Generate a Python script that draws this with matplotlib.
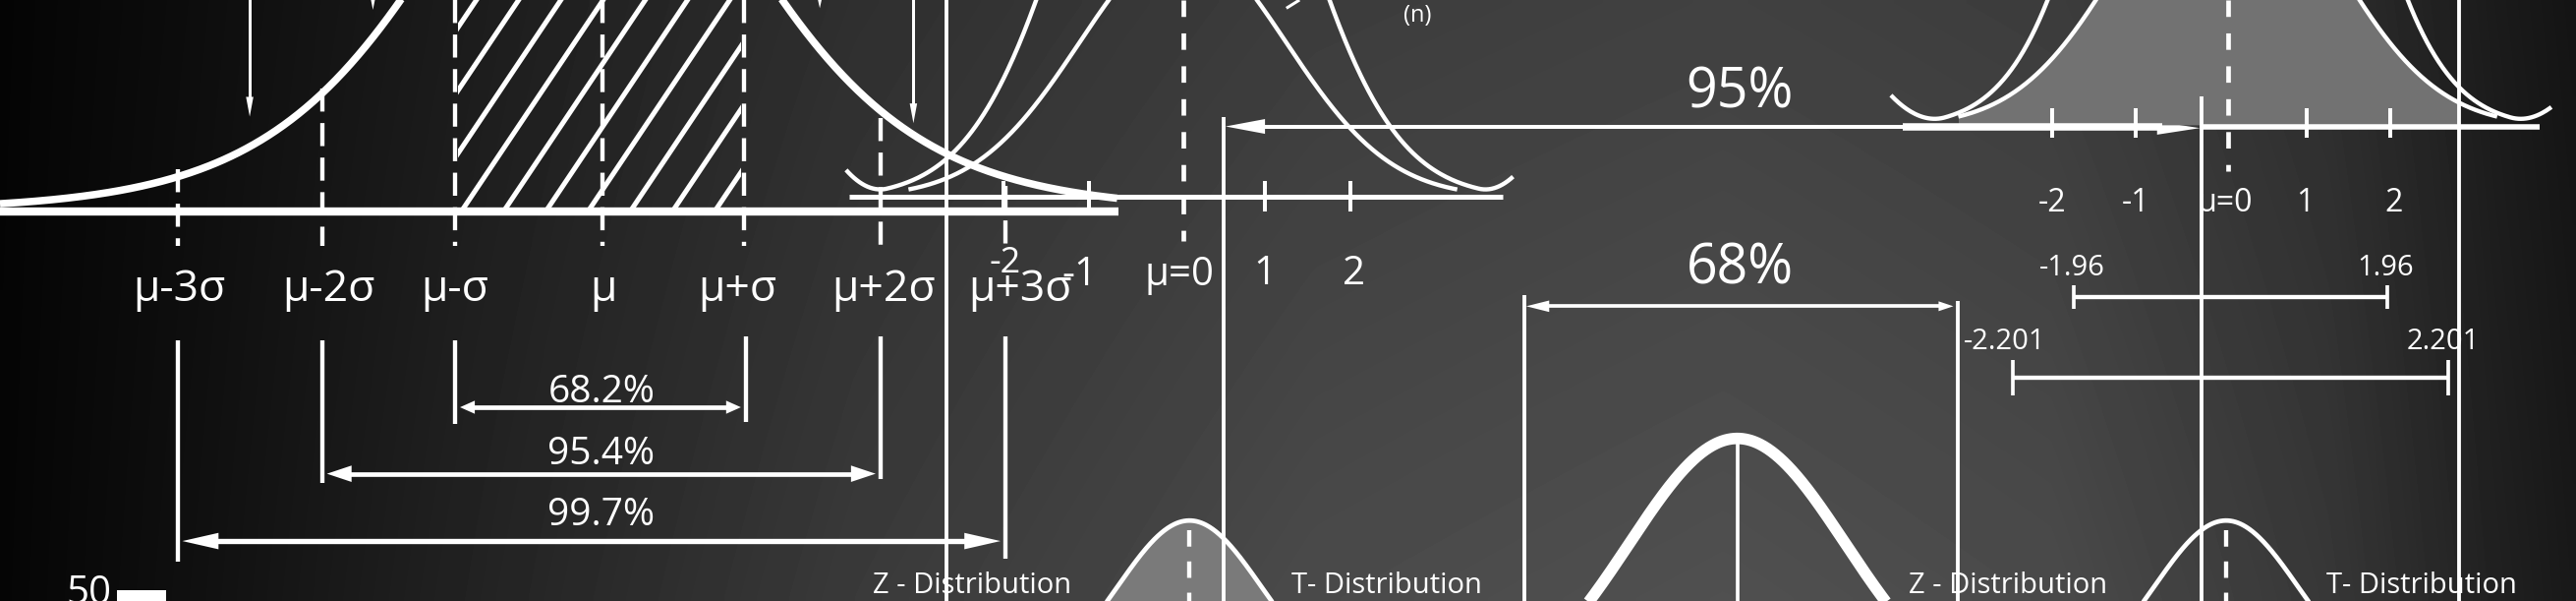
import numpy as np
import matplotlib
matplotlib.use("Agg")
import matplotlib.pyplot as plt
from matplotlib.patches import Polygon, Rectangle

plt.rcParams['font.family'] = ['Open Sans', 'DejaVu Sans']
plt.rcParams['lines.scale_dashes'] = False

W, H = 1568, 366
PT = 1.204          # points per board unit
INK = 'white'

# board shading, left to right
bg_x = [0, 120, 300, 520, 800, 1050, 1250, 1420, 1520, 1568]
bg_level = [0.02, 0.06, 0.13, 0.21, 0.27, 0.29, 0.27, 0.20, 0.12, 0.09]

# left panel: normal curve with sigma marks
sigma_x = [108, 196, 277, 367, 453, 536, 612]
sigma_dash_top = [103, 54, 0, 0, 0, 72, 113]
sigma_labels = ['μ-3σ', 'μ-2σ', 'μ-σ', 'μ', 'μ+σ', 'μ+2σ', 'μ+3σ']
sigma_label_x = [109, 200, 277, 367, 449, 538, 621]
hatch_bottoms = [282 + 25.7 * k for k in range(-4, 7)]

pct_labels = ['68.2%', '95.4%', '99.7%']
pct_left = [277, 196, 108]
pct_right = [454, 536, 612]
pct_arrow_y = [248, 288.5, 329.5]
pct_text_y = [237, 275, 312]
pct_bottom_left = [258, 294, 342]
pct_bottom_right = [257, 292, 340]
pct_head = [(9, 8), (15, 10), (22, 10)]

# middle panel: z / t curves
mid_center = 720
mid_ticks_x = [611, 663, 770, 822]
mid_labels = ['-2', '-1', 'μ=0', '1', '2']
mid_label_x = [612, 657, 718, 770, 824]
mid_label_y = [166, 174, 174, 173, 173]
mid_label_size = [26, 29, 29, 29, 29]

# right panel: z / t curves
right_center = 1356
right_ticks_x = [1249, 1300, 1404, 1455]
right_labels = ['-2', '-1', 'μ=0', '1', '2']
right_label_x = [1249, 1300, 1354, 1403, 1457]

ci_lo = ['-1.96', '-2.201']
ci_hi = ['1.96', '2.201']
ci_x0 = [1262.5, 1225]
ci_x1 = [1453, 1490]
ci_y = [181, 230]
ci_cap = [7, 11]
ci_lo_x = [1261, 1220]
ci_hi_x = [1452, 1487]
ci_text_y = [168, 212.5]

dist_z_x = [592, 1222]
dist_t_x = [844, 1474]
small_bell_x = [724, 1355]

full_lines_x = [576, 1497]
part_lines = [(745, 71), (928, 180), (1192, 183), (1340, 59)]


def line(xs, ys, lw, **kw):
    ax.plot(xs, ys, color=INK, lw=lw * PT, solid_capstyle='butt', **kw)


def dline(x, y0, y1, lw, on, off):
    ax.plot([x, x], [y0, y1], color=INK, lw=lw * PT, dashes=(on * PT, off * PT),
            dash_capstyle='butt')


def head(tx, ty, way, L, Wd):
    if way == 'right':
        pts = [(tx, ty), (tx - L, ty - Wd / 2), (tx - L, ty + Wd / 2)]
    elif way == 'left':
        pts = [(tx, ty), (tx + L, ty - Wd / 2), (tx + L, ty + Wd / 2)]
    else:
        pts = [(tx, ty), (tx - Wd / 2, ty - L), (tx + Wd / 2, ty - L)]
    ax.add_patch(Polygon(pts, closed=True, color=INK, lw=0))


def text(x, y, s, size, **kw):
    ax.text(x, y, s, color=INK, fontsize=size, ha='center', va='baseline', **kw)


def bell(x, c, base, amp, two_s2, dmin=None, dend=None, rise=0):
    d = np.abs(x - c)
    y = base - amp * np.exp(-d ** 2 / two_s2)
    if dmin is not None:
        y = y - rise * np.clip((d - dmin) / (dend - dmin), 0, None) ** 2
    return y


fig = plt.figure(figsize=(26.21, 6.11), dpi=100)
ax = fig.add_axes([0, 0, 1, 1])
ax.set_xlim(0, W)
ax.set_ylim(H, 0)
ax.axis('off')

gx = np.linspace(0, W, 400)
gy = np.linspace(0, H, 100)
lev = np.interp(gx, bg_x, bg_level)
shade = np.outer(0.88 + 0.2 * gy / H, lev)
ax.imshow(shade, extent=(0, W, H, 0), cmap='gray', vmin=0, vmax=1,
          aspect='auto', interpolation='bilinear', zorder=0)

# ---------------- left panel ----------------
xb = np.linspace(0, 680, 600)
yb = 128 - 263 / np.cosh((xb - 360) / 129) ** 2
line(xb, yb, 4.5)
line([0, 681], [128.5, 128.5], 5)

clip = Rectangle((279, -5), 172, 132, transform=ax.transData)
for b in hatch_bottoms:
    ln, = ax.plot([b, b + 0.67 * 135], [127, -8], color=INK, lw=3 * PT)
    ln.set_clip_path(clip)

for x, top in zip(sigma_x, sigma_dash_top):
    dline(x, top, 150, 2.6, 14, 7)
for s, x in zip(sigma_labels, sigma_label_x):
    text(x, 183.5, s, 32)

for i, s in enumerate(pct_labels):
    l, r, y = pct_left[i], pct_right[i], pct_arrow_y[i]
    line([l, l], [207, pct_bottom_left[i]], 2.6)
    line([r, r], [205, pct_bottom_right[i]], 2.6)
    L, Wd = pct_head[i]
    line([l + 3 + L * 0.5, r - 3 - L * 0.5], [y, y], 2.8 if i < 2 else 3.2)
    head(l + 3, y, 'left', L, Wd)
    head(r - 3, y, 'right', L, Wd)
    text(366, pct_text_y[i] + 8, s, 28)

# arrows from above
line([152, 152], [-5, 60], 1.8)
head(152, 71, 'down', 12, 4.5)
line([556, 556], [-5, 64], 1.8)
head(556, 75, 'down', 12, 4.5)
head(227, 6, 'down', 10, 4)
head(499, 5, 'down', 9, 4)

# ---------------- middle panel ----------------
xm = np.linspace(mid_center - 205, mid_center + 201, 500)
line(xm, bell(xm, mid_center, 120, 335, 7763, 180, 205, 15), 2.6)
xm2 = np.linspace(mid_center - 167, mid_center + 167, 400)
line(xm2, bell(xm2, mid_center, 120, 155, 7938), 2.6)
line([517, 915], [120, 120], 3)
for x in mid_ticks_x:
    line([x, x], [110, 129], 2.4)
dline(mid_center, 0, 147, 2.8, 10, 10)
for s, x, y, sz in zip(mid_labels, mid_label_x, mid_label_y, mid_label_size):
    text(x, y, s, sz)
text(863, 13, '(n)', 17)
line([791, 783], [0, 5], 1.8)

# ---------------- long verticals and range arrows ----------------
for x in full_lines_x:
    line([x, x], [0, H], 2.3)
for x, top in part_lines:
    line([x, x], [top, H], 2.3)

line([760, 1316], [77, 77], 2.4)
line([1158, 1316], [77.5, 77.5], 4.5)
head(746, 77, 'left', 24, 9)
head(1339, 78, 'right', 26, 8)
line([1339, 1546], [77, 77], 3.3)
text(1059, 65.5, '95%', 40)

line([938, 1184], [186.5, 186.5], 2.2)
head(929, 186.5, 'left', 14, 7)
head(1189, 186.5, 'right', 9, 6)
text(1059, 173, '68%', 40)

# ---------------- right panel ----------------
xr2 = np.linspace(right_center - 164, right_center + 164, 400)
yr2 = bell(xr2, right_center, 77, 172, 8012)
inside = xr2 <= 1497
ax.fill_between(xr2[inside], yr2[inside], 76, color='#727272', lw=0, zorder=1)
line(xr2, yr2, 2.6)
xr = np.linspace(right_center - 205, right_center + 197, 500)
line(xr, bell(xr, right_center, 77, 466, 6674, 172, 203, 16), 2.6)
for x in right_ticks_x:
    line([x, x], [66, 84], 2.4)
dline(right_center, 0, 104, 2.8, 10, 10)
for s, x in zip(right_labels, right_label_x):
    text(x, 128.5, s, 23)

for i in range(2):
    y = ci_y[i]
    line([ci_x0[i], ci_x1[i]], [y, y], 2.6)
    line([ci_x0[i], ci_x0[i]], [y - ci_cap[i], y + ci_cap[i]], 2.2)
    line([ci_x1[i], ci_x1[i]], [y - ci_cap[i], y + ci_cap[i]], 2.2)
    text(ci_lo_x[i], ci_text_y[i], ci_lo[i], 21)
    text(ci_hi_x[i], ci_text_y[i], ci_hi[i], 21)

# ---------------- bottom row ----------------
xa = np.linspace(940, 1175, 400)
line(xa, bell(xa, 1057.5, 430, 163, 8672), 7)
line([1057.5, 1057.5], [268, H], 2.2)

for k, c in enumerate(small_bell_x):
    xs = np.linspace(c - 75, c + 75, 300)
    ys = bell(xs, c, 420, 103, 3870)
    if k == 0:
        ax.fill_between(xs, ys, H + 5, color='#7a7a7a', lw=0, zorder=1)
    line(xs, ys, 2.8)
    dline(c, 323, H, 2.6, 10, 9)

for x in dist_z_x:
    text(x, 361.5, 'Z - Distribution', 21)
for x in dist_t_x:
    text(x, 361.5, 'T- Distribution', 21)

text(54, 368, '50', 29)
ax.add_patch(Rectangle((71, 359.5), 30, 10, color=INK, lw=0))

fig.savefig('out.png', dpi=100)
